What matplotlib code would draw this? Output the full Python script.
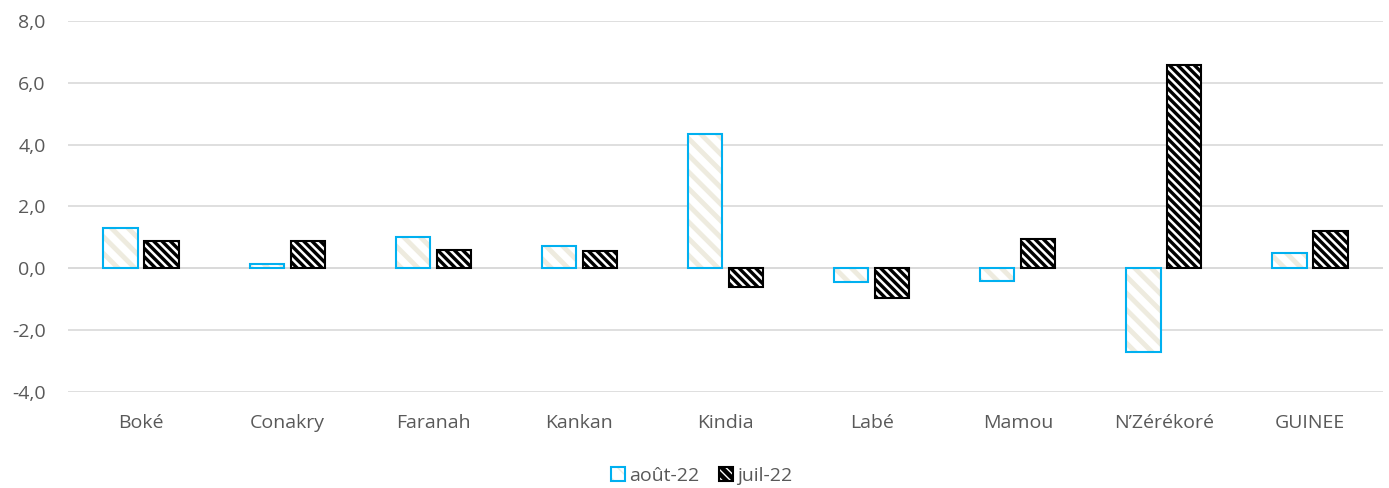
import numpy as np
import matplotlib
matplotlib.use("Agg")
import matplotlib.pyplot as plt
from matplotlib.patches import Patch
from matplotlib.legend_handler import HandlerTuple
from matplotlib.ticker import FuncFormatter

plt.rcParams["font.family"] = ["Open Sans", "DejaVu Sans"]

regions = ["Boké", "Conakry", "Faranah", "Kankan", "Kindia", "Labé", "Mamou", "N’Zérékoré", "GUINEE"]
aout_22 = [1.3, 0.13, 1.0, 0.71, 4.33, -0.45, -0.4, -2.72, 0.49]
juil_22 = [0.87, 0.87, 0.58, 0.55, -0.6, -0.97, 0.94, 6.57, 1.2]

txt = "#595959"
cyan = "#00B0F0"
beige = "#EEEBDF"


def hatch_lw(patches, lw):
    for p in patches:
        if hasattr(p, "set_hatch_linewidth"):
            p.set_hatch_linewidth(lw)


fig = plt.figure(figsize=(13.89, 4.88), dpi=100)
ax = fig.add_axes([0.049, 0.197, 0.9467, 0.76])

x = np.arange(len(regions))
w = 0.235
off = 0.14

# août-22 : hachures beige, contour cyan
b1 = ax.bar(x - off, aout_22, w, color="white", edgecolor=beige, hatch="\\\\", linewidth=0, zorder=3)
hatch_lw(b1, 3.5)
ax.bar(x - off, aout_22, w, fill=False, edgecolor=cyan, linewidth=1.5, zorder=4)
# juil-22 : noir avec hachures blanches
b2 = ax.bar(x + off, juil_22, w, color="black", edgecolor="white", hatch="\\\\\\\\", linewidth=0, zorder=3)
hatch_lw(b2, 1.8)
ax.bar(x + off, juil_22, w, fill=False, edgecolor="black", linewidth=1.5, zorder=4)

ax.set_xlim(-0.5, len(regions) - 0.5)
ax.set_ylim(-4, 8)
ax.set_yticks(np.arange(-4, 8.1, 2))
ax.yaxis.set_major_formatter(FuncFormatter(lambda v, p: f"{v:.1f}".replace(".", ",")))
ax.set_xticks(x)
ax.set_xticklabels(regions)
ax.grid(axis="y", color="#D9D9D9", linewidth=1.2, zorder=0)
ax.axhline(0, color="#D9D9D9", linewidth=1.2, zorder=1)
for s in ax.spines.values():
    s.set_visible(False)
ax.tick_params(axis="both", length=0, labelsize=14, colors=txt)
ax.tick_params(axis="x", pad=16)
ax.tick_params(axis="y", pad=16)

p1 = Patch(facecolor="white", edgecolor=beige, hatch="\\\\", linewidth=0)
p2 = Patch(facecolor="black", edgecolor="white", hatch="\\\\\\\\", linewidth=0)
hatch_lw([p1], 3.5)
hatch_lw([p2], 1.8)
h1 = (p1, Patch(fill=False, edgecolor=cyan, linewidth=1.5))
h2 = (p2, Patch(fill=False, edgecolor="black", linewidth=1.5))
leg = fig.legend([h1, h2], ["août-22", "juil-22"], loc="lower center", bbox_to_anchor=(0.505, -0.03),
                 ncol=2, frameon=False, fontsize=14, handlelength=0.75, handleheight=0.75,
                 handletextpad=0.2, columnspacing=1.0,
                 handler_map={tuple: HandlerTuple(ndivide=1, pad=0)})
for t in leg.get_texts():
    t.set_color(txt)

fig.savefig("out.png", dpi=100)
